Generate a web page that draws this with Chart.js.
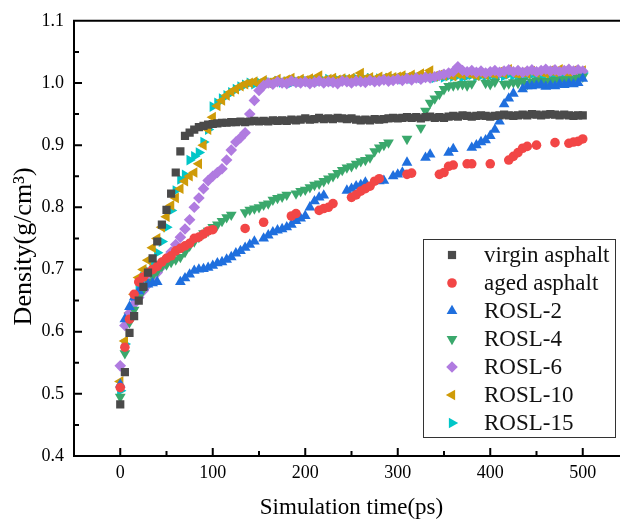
<!DOCTYPE html>
<html>
<head>
<meta charset="utf-8">
<script src="https://cdn.jsdelivr.net/npm/chart.js@4.4.1/dist/chart.umd.min.js"></script>
<style>
  html, body { margin: 0; padding: 0; background: #fff; overflow: hidden; }
  #wrap { width: 620px; height: 519px; overflow: hidden; }
</style>
</head>
<body>
<div id="wrap"><canvas id="densityChart" width="640" height="519"></canvas></div>
<script>
// simulation time (ps)
const times = [
  0, 5, 10, 15, 20, 25, 30, 35, 40, 45,
  50, 55, 60, 65, 70, 75, 80, 85, 90, 95,
  100, 105, 110, 115, 120, 125, 130, 135, 140, 145,
  150, 155, 160, 165, 170, 175, 180, 185, 190, 195,
  200, 205, 210, 215, 220, 225, 230, 235, 240, 245,
  250, 255, 260, 265, 270, 275, 280, 285, 290, 295,
  300, 305, 310, 315, 320, 325, 330, 335, 340, 345,
  350, 355, 360, 365, 370, 375, 380, 385, 390, 395,
  400, 405, 410, 415, 420, 425, 430, 435, 440, 445,
  450, 455, 460, 465, 470, 475, 480, 485, 490, 495,
  500
];

// density (g/cm3), null = no sample shown
const virginAsphalt = [
  0.483, 0.535, 0.598, 0.625, 0.650, 0.672, 0.695, 0.718, 0.745, 0.772,
  0.796, 0.822, 0.856, 0.890, 0.915, 0.920, 0.925, 0.929, 0.931, 0.933,
  0.934, 0.935, 0.936, 0.936, 0.937, 0.937, 0.938, 0.937, 0.938, 0.939,
  0.938, 0.939, 0.938, 0.940, 0.939, 0.940, 0.939, 0.941, 0.940, 0.941,
  0.943, 0.941, 0.942, 0.944, 0.942, 0.943, 0.942, 0.944, 0.943, 0.942,
  0.943, 0.941, 0.940, 0.941, 0.940, 0.942, 0.941, 0.942, 0.943, 0.944,
  0.943, 0.944, 0.945, 0.944, 0.945, 0.943, 0.945, 0.946, 0.944, 0.945,
  0.944, 0.946, 0.947, 0.946, 0.948, 0.947, 0.946, 0.947, 0.948, 0.947,
  0.946, 0.947, 0.948, 0.949, 0.948, 0.947, 0.948, 0.949, 0.948, 0.950,
  0.949, 0.948, 0.949, 0.950, 0.949, 0.948, 0.949, 0.948, 0.947, 0.948,
  0.948
];
const agedAsphalt = [
  0.510, 0.575, 0.620, 0.660, 0.680, 0.688, 0.695, 0.700, 0.705, 0.712,
  0.718, 0.722, 0.730, 0.734, 0.738, 0.742, 0.750, 0.752, 0.757, 0.762,
  0.764, null, null, null, null, null, null, 0.766, null, null,
  null, 0.776, null, null, null, null, null, 0.786, 0.790, null,
  null, null, null, 0.795, 0.798, 0.800, 0.806, null, null, null,
  0.816, 0.820, 0.826, 0.830, 0.834, 0.842, 0.846, null, null, null,
  null, null, 0.853, 0.855, null, null, null, null, null, 0.853,
  0.856, 0.866, 0.868, null, null, 0.870, 0.870, null, null, null,
  0.870, null, null, null, 0.876, 0.882, 0.888, 0.895, 0.898, null,
  0.900, null, null, null, 0.904, null, null, 0.903, 0.905, 0.906,
  0.910
];
const rosl2 = [
  0.515, 0.620, 0.640, 0.655, 0.665, 0.672, 0.676, 0.678, 0.680, null,
  null, null, null, 0.680, 0.686, 0.692, 0.698, 0.700, 0.701, 0.703,
  0.706, 0.710, 0.712, 0.716, 0.720, 0.726, 0.730, 0.735, 0.740, 0.745,
  null, 0.750, 0.755, 0.760, 0.763, 0.765, 0.768, 0.772, 0.778, 0.782,
  0.786, 0.800, 0.810, 0.816, 0.819, null, null, null, null, 0.827,
  0.830, 0.834, 0.836, 0.840, null, null, 0.842, 0.843, null, 0.850,
  0.853, 0.856, 0.872, null, null, null, 0.880, 0.885, null, null,
  null, 0.888, 0.894, null, null, null, 0.896, 0.900, 0.905, 0.908,
  0.915, 0.925, 0.938, 0.966, 0.975, 0.983, null, 0.990, 0.995, 0.995,
  0.996, 0.997, 0.994, 0.996, 0.995, 0.998, 0.997, 0.999, 0.998, 1.000,
  1.007
];
const rosl4 = [
  0.495, 0.565, 0.615, 0.635, 0.655, 0.668, 0.680, 0.690, 0.697, 0.705,
  0.708, 0.712, 0.716, 0.720, 0.728, 0.738, 0.745, 0.752, 0.758, 0.762,
  0.768, 0.772, 0.778, 0.784, 0.788, null, null, 0.792, 0.796, 0.798,
  0.800, 0.804, 0.806, 0.812, 0.815, 0.817, 0.820, null, 0.822, 0.826,
  0.828, 0.832, 0.836, 0.838, 0.842, 0.846, 0.850, 0.855, 0.860, 0.864,
  0.866, 0.870, 0.874, 0.876, 0.880, 0.890, 0.896, 0.900, 0.904, null,
  null, null, 0.910, null, null, 0.928, 0.955, 0.968, 0.975, 0.982,
  0.990, 0.995, 0.996, 0.997, 0.998, 0.996, 0.999, null, null, 1.000,
  0.998, 1.002, null, 0.998, 0.999, 1.001, 1.000, 1.003, 0.998, 1.002,
  1.004, 1.001, 1.003, 1.002, 1.005, 1.004, 1.006, 1.003, 1.006, 1.008,
  1.010
];
const rosl6 = [
  0.545, 0.610, 0.630, 0.645, 0.655, 0.666, 0.676, 0.687, 0.695, 0.705,
  0.718, 0.728, 0.740, 0.752, 0.765, 0.780, 0.800, 0.815, 0.830, 0.843,
  0.850, 0.856, 0.862, 0.876, 0.892, 0.905, 0.912, 0.920, 0.950, 0.972,
  0.988, 0.996, 1.000, 0.998, 1.002, 1.000, 0.999, 1.003, 1.001, 1.000,
  1.002, 0.999, 1.001, 1.003, 1.000, 1.002, 1.001, 0.999, 1.003, 1.002,
  1.000, 1.003, 1.002, 1.001, 1.004, 1.002, 1.003, 1.005, 1.003, 1.004,
  1.006, 1.004, 1.007, 1.005, 1.008, 1.006, 1.009, 1.008, 1.010, 1.012,
  1.014, 1.016, 1.018, 1.026, 1.020, 1.018, 1.020, 1.017, 1.019, 1.016,
  1.018, 1.020, 1.017, 1.019, 1.021, 1.018, 1.020, 1.017, 1.019, 1.021,
  1.018, 1.020, 1.022, 1.019, 1.021, 1.018, 1.020, 1.022, 1.019, 1.021,
  1.019
];
const rosl10 = [
  0.520, 0.585, 0.630, 0.660, 0.687, 0.700, 0.715, 0.735, 0.750, 0.768,
  0.785, 0.803, 0.815, 0.830, 0.842, 0.850, 0.856, 0.870, 0.900, 0.925,
  0.945, 0.963, 0.972, 0.980, 0.986, 0.990, 0.995, 0.998, 1.000, 1.002,
  0.998, 1.004, 1.000, 1.003, 1.006, 1.002, 1.005, 1.008, 1.003, 1.006,
  1.004, 1.007, 1.005, 1.012, 1.004, 1.006, 1.008, 1.005, 1.007, 1.006,
  1.008, 1.006, 1.016, 1.007, 1.009, 1.006, 1.010, 1.008, 1.011, 1.009,
  1.010, 1.012, 1.009, 1.013, 1.010, 1.015, 1.012, 1.020, 1.011, 1.013,
  1.012, 1.014, 1.011, 1.015, 1.013, 1.016, 1.014, 1.012, 1.015, 1.013,
  1.016, 1.014, 1.018, 1.015, 1.022, 1.016, 1.014, 1.017, 1.015, 1.019,
  1.016, 1.018, 1.015, 1.020, 1.017, 1.022, 1.018, 1.016, 1.020, 1.018,
  1.020
];
const rosl15 = [
  0.505, 0.580, 0.620, 0.655, 0.675, 0.688, 0.697, 0.712, 0.727, 0.745,
  0.768, 0.795, 0.827, 0.845, 0.852, 0.876, 0.882, 0.888, 0.905, 0.925,
  0.962, 0.968, 0.975, 0.980, 0.985, 0.990, 0.994, 0.997, 1.000, 0.998,
  1.001, 0.999, 1.002, 1.000, 1.003, 1.001, 1.002, 1.000, 1.003, 1.002,
  1.004, 1.002, 1.005, 1.003, 1.004, 1.006, 1.003, 1.005, 1.004, 1.006,
  1.005, 1.007, 1.004, 1.006, 1.008, 1.005, 1.007, 1.006, 1.008, 1.007,
  1.008, 1.006, 1.009, 1.007, 1.010, 1.008, 1.009, 1.011, 1.008, 1.010,
  1.009, 1.011, 1.010, 1.012, 1.009, 1.011, 1.013, 1.010, 1.012, 1.011,
  1.012, 1.010, 1.013, 1.011, 1.014, 1.012, 1.010, 1.013, 1.012, 1.014,
  1.013, 1.011, 1.014, 1.012, 1.015, 1.013, 1.011, 1.014, 1.016, 1.013,
  1.016
];

const xTicks = [0, 100, 200, 300, 400, 500];
const yTicks = [0.4, 0.5, 0.6, 0.7, 0.8, 0.9, 1.0, 1.1];
const xTitle = "Simulation time(ps)";
const yTitle = "Density(g/cm³)";

const serif = "'Times New Roman', 'Liberation Serif', serif";
Chart.defaults.font.family = serif;
Chart.defaults.color = "#000";

function toPoints(values) {
  const pts = [];
  values.forEach((v, i) => {
    if (v !== null) pts.push({ x: times[i], y: v });
  });
  return pts;
}

function series(label, values, color, style, rotation, radius) {
  return {
    label: label,
    data: toPoints(values),
    showLine: false,
    pointStyle: style,
    pointRotation: rotation,
    pointRadius: radius,
    pointHoverRadius: radius,
    pointBackgroundColor: color,
    pointBorderWidth: 0,
    backgroundColor: color,
    borderColor: color
  };
}

// inward ticks + top/right frame like Origin
const frameTicks = {
  id: "frameTicks",
  afterDraw(chart) {
    const { ctx, chartArea: a, scales: { x, y } } = chart;
    ctx.save();
    ctx.strokeStyle = "#000";
    ctx.lineWidth = 2;
    ctx.beginPath();
    ctx.moveTo(a.left - 1, a.top);
    ctx.lineTo(a.right + 1, a.top);
    ctx.moveTo(a.right, a.top);
    ctx.lineTo(a.right, a.bottom);
    for (let v = 0; v <= 500; v += 50) {
      const px = x.getPixelForValue(v);
      const len = v % 100 === 0 ? 8 : 5;
      ctx.moveTo(px, a.bottom);
      ctx.lineTo(px, a.bottom - len);
    }
    for (let k = 1; k < 14; k++) {
      const py = y.getPixelForValue(0.4 + k * 0.05);
      const len = k % 2 === 0 ? 8 : 5;
      ctx.moveTo(a.left, py);
      ctx.lineTo(a.left + len, py);
    }
    ctx.stroke();

    // y axis title, a little below the axis middle as in the original
    ctx.translate(24, (a.top + a.bottom) / 2 + 8);
    ctx.rotate(-Math.PI / 2);
    ctx.font = "26px " + serif;
    ctx.textAlign = "center";
    ctx.textBaseline = "middle";
    ctx.fillStyle = "#000";
    ctx.fillText(yTitle, 0, 0);
    ctx.restore();
  }
};

// boxed legend inside the plot
const boxLegend = {
  id: "boxLegend",
  afterDraw(chart) {
    const ctx = chart.ctx;
    const left = 423, top = 239, w = 192, h = 198;
    ctx.save();
    ctx.fillStyle = "#fff";
    ctx.fillRect(left, top, w, h);
    ctx.strokeStyle = "#333";
    ctx.lineWidth = 1;
    ctx.strokeRect(left + 0.5, top + 0.5, w, h);
    ctx.font = "23px " + serif;
    ctx.textBaseline = "middle";
    chart.data.datasets.forEach((ds, i) => {
      const cy = top + 16 + i * 28;
      ctx.fillStyle = ds.pointBackgroundColor;
      Chart.helpers.drawPoint(ctx, {
        pointStyle: ds.pointStyle,
        rotation: ds.pointRotation,
        radius: ds.pointRadius,
        borderWidth: 0
      }, left + 29, cy);
      ctx.fillStyle = "#111";
      ctx.fillText(ds.label, left + 61, cy + 1);
    });
    ctx.restore();
  }
};

const ctx = document.getElementById("densityChart").getContext("2d");

const densityChart = new Chart(ctx, {
  type: "scatter",
  data: {
    datasets: [
      series("virgin asphalt", virginAsphalt, "#4a4a4a", "rect", 0, 5.8),
      series("aged asphalt", agedAsphalt, "#f24646", "circle", 0, 4.8),
      series("ROSL-2", rosl2, "#1f6fde", "triangle", 0, 6.2),
      series("ROSL-4", rosl4, "#3aa86c", "triangle", 180, 6.2),
      series("ROSL-6", rosl6, "#b07be0", "rectRot", 0, 5.8),
      series("ROSL-10", rosl10, "#cf9b08", "triangle", 270, 6.2),
      series("ROSL-15", rosl15, "#00c6c8", "triangle", 90, 6.2)
    ]
  },
  options: {
    responsive: false,
    animation: false,
    layout: { padding: { top: 20, right: 11, left: 0, bottom: 0 } },
    plugins: {
      legend: { display: false },
      tooltip: { enabled: false }
    },
    scales: {
      x: {
        type: "linear",
        position: "bottom",
        min: -50,
        max: 550,
        afterBuildTicks: (s) => { s.ticks = xTicks.map(v => ({ value: v })); },
        afterFit: (s) => { s.height = 63; },
        grid: { display: false, drawTicks: false },
        border: { display: true, color: "#000", width: 2 },
        ticks: { font: { size: 18 }, color: "#000", padding: 6, maxRotation: 0 },
        title: {
          display: true,
          text: xTitle,
          font: { size: 23, lineHeight: 1 },
          color: "#000",
          padding: { top: 0, bottom: 0 }
        }
      },
      y: {
        type: "linear",
        position: "left",
        min: 0.4,
        max: 1.1,
        afterBuildTicks: (s) => { s.ticks = yTicks.map(v => ({ value: v })); },
        afterFit: (s) => { s.width = 74; },
        grid: { display: false, drawTicks: false },
        border: { display: true, color: "#000", width: 2 },
        ticks: {
          font: { size: 18 },
          color: "#000",
          padding: 10,
          callback: (v) => Number(v).toFixed(1)
        },
        title: { display: false }
      }
    }
  },
  plugins: [frameTicks, boxLegend]
});
</script>
</body>
</html>
